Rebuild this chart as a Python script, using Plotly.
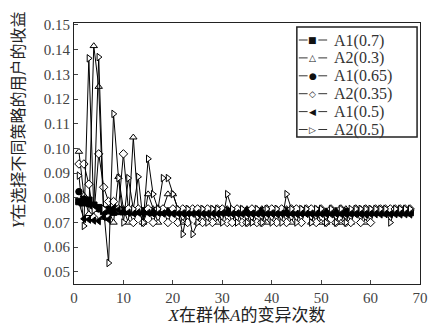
import plotly.graph_objects as go

x_vals = list(range(1, 69))

a1_07 = [0.0785, 0.0780, 0.0790, 0.0770, 0.0760, 0.0745, 0.0748, 0.0742, 0.0745, 0.0744,
         0.0746, 0.0743, 0.0745, 0.0744, 0.0746, 0.0742, 0.0745, 0.0743, 0.0744, 0.0745,
         0.0743, 0.0744, 0.0742, 0.0745, 0.0743, 0.0744, 0.0742, 0.0744, 0.0743, 0.0745,
         0.0742, 0.0744, 0.0743, 0.0742, 0.0744, 0.0743, 0.0742, 0.0744, 0.0742, 0.0743,
         0.0744, 0.0742, 0.0743, 0.0742, 0.0744, 0.0742, 0.0743, 0.0741, 0.0743, 0.0742,
         0.0741, 0.0743, 0.0742, 0.0741, 0.0742, 0.0741, 0.0743, 0.0741, 0.0742, 0.0741,
         0.0742, 0.0741, 0.0740, 0.0742, 0.0741, 0.0740, 0.0741, 0.0740]
a2_03 = [0.0987, 0.0810, 0.0735, 0.1415, 0.1250, 0.0720, 0.0750, 0.0700, 0.0885, 0.0755,
         0.0700, 0.1045, 0.0755, 0.0700, 0.0815, 0.0755, 0.0700, 0.0755, 0.0815, 0.0815,
         0.0755, 0.0700, 0.0755, 0.0755, 0.0700, 0.0755, 0.0755, 0.0755, 0.0700, 0.0755,
         0.0755, 0.0700, 0.0755, 0.0755, 0.0755, 0.0700, 0.0755, 0.0755, 0.0700, 0.0755,
         0.0755, 0.0755, 0.0755, 0.0700, 0.0755, 0.0755, 0.0755, 0.0700, 0.0755, 0.0700,
         0.0700, 0.0755, 0.0700, 0.0700, 0.0755, 0.0700, 0.0755, 0.0755, 0.0700, 0.0755,
         0.0755, 0.0755, 0.0755, 0.0755, 0.0755, 0.0755, 0.0755, 0.0755]
a1_065 = [0.0825, 0.0795, 0.0775, 0.0765, 0.0755, 0.0752, 0.0755, 0.0750, 0.0748, 0.0750,
          0.0749, 0.0748, 0.0750, 0.0748, 0.0749, 0.0747, 0.0749, 0.0748, 0.0747, 0.0749,
          0.0748, 0.0747, 0.0749, 0.0748, 0.0747, 0.0748, 0.0749, 0.0747, 0.0748, 0.0747,
          0.0748, 0.0747, 0.0748, 0.0746, 0.0748, 0.0747, 0.0746, 0.0748, 0.0747, 0.0746,
          0.0747, 0.0746, 0.0748, 0.0746, 0.0747, 0.0746, 0.0747, 0.0745, 0.0747, 0.0746,
          0.0745, 0.0746, 0.0747, 0.0745, 0.0746, 0.0745, 0.0746, 0.0745, 0.0746, 0.0744,
          0.0745, 0.0746, 0.0744, 0.0745, 0.0744, 0.0745, 0.0744, 0.0744]
a2_035 = [0.0937, 0.0937, 0.0855, 0.0720, 0.0978, 0.0843, 0.0785, 0.0785, 0.0755, 0.0978,
          0.0755, 0.0700, 0.0755, 0.0700, 0.0755, 0.0700, 0.0755, 0.0755, 0.0700, 0.0755,
          0.0700, 0.0755, 0.0700, 0.0755, 0.0755, 0.0700, 0.0755, 0.0700, 0.0755, 0.0755,
          0.0700, 0.0700, 0.0755, 0.0700, 0.0700, 0.0755, 0.0700, 0.0700, 0.0755, 0.0755,
          0.0700, 0.0755, 0.0700, 0.0755, 0.0755, 0.0700, 0.0755, 0.0755, 0.0700, 0.0755,
          0.0700, 0.0755, 0.0700, 0.0755, 0.0700, 0.0700, 0.0755, 0.0700, 0.0755, 0.0700,
          0.0755, 0.0755, 0.0755, 0.0755, 0.0755, 0.0755, 0.0755, 0.0755]
a1_05 = [0.0780, 0.0715, 0.0712, 0.0708, 0.0706, 0.0722, 0.0712, 0.0758, 0.0752, 0.0745,
         0.0740, 0.0738, 0.0741, 0.0737, 0.0739, 0.0736, 0.0740, 0.0737, 0.0738, 0.0736,
         0.0739, 0.0737, 0.0738, 0.0736, 0.0738, 0.0737, 0.0736, 0.0738, 0.0736, 0.0737,
         0.0738, 0.0736, 0.0737, 0.0735, 0.0737, 0.0736, 0.0737, 0.0735, 0.0736, 0.0737,
         0.0735, 0.0736, 0.0735, 0.0737, 0.0735, 0.0736, 0.0735, 0.0736, 0.0734, 0.0736,
         0.0735, 0.0734, 0.0736, 0.0735, 0.0734, 0.0735, 0.0734, 0.0735, 0.0733, 0.0735,
         0.0734, 0.0733, 0.0734, 0.0733, 0.0734, 0.0733, 0.0734, 0.0733]
a2_05 = [0.0890, 0.0686, 0.1365, 0.0750, 0.1370, 0.0755, 0.0536, 0.1140, 0.0880, 0.0700,
         0.0880, 0.0755, 0.0885, 0.0700, 0.0958, 0.0815, 0.0755, 0.0880, 0.0880, 0.0815,
         0.0755, 0.0653, 0.0755, 0.0653, 0.0700, 0.0755, 0.0700, 0.0755, 0.0755, 0.0700,
         0.0815, 0.0755, 0.0700, 0.0755, 0.0700, 0.0700, 0.0755, 0.0700, 0.0755, 0.0700,
         0.0755, 0.0700, 0.0815, 0.0755, 0.0700, 0.0755, 0.0755, 0.0700, 0.0755, 0.0755,
         0.0700, 0.0755, 0.0700, 0.0755, 0.0700, 0.0755, 0.0755, 0.0755, 0.0755, 0.0755,
         0.0755, 0.0755, 0.0755, 0.0700, 0.0755, 0.0755, 0.0755, 0.0755]

series_names = ["A1(0.7)", "A2(0.3)", "A1(0.65)", "A2(0.35)", "A1(0.5)", "A2(0.5)"]
series_values = [a1_07, a2_03, a1_065, a2_035, a1_05, a2_05]
series_symbols = ["square", "triangle-up", "circle", "diamond", "triangle-left", "triangle-right"]
series_fills = ["black", "white", "black", "white", "black", "white"]
legend_glyphs = ["■", "△", "●", "◇", "◀", "▷"]

# plot area in pixels (for placing the hand-built legend box)
W, H = 440, 334
ML, MR, MT, MB = 74, 12, 23, 50
PW, PH = W - ML - MR, H - MT - MB


def px_x(p):
    return (p - ML) / PW


def px_y(p):
    return 1 - (p - MT) / PH


fig = go.Figure()
for name, ys, sym, fill in zip(series_names, series_values, series_symbols, series_fills):
    fig.add_trace(go.Scatter(
        x=x_vals, y=ys, name=name, mode="lines+markers",
        line=dict(color="black", width=1),
        marker=dict(symbol=sym, size=6.5, color=fill,
                    line=dict(color="black", width=1)),
    ))

serif = "Liberation Serif, Noto Sans CJK SC, serif"

shapes = [dict(type="rect", xref="paper", yref="paper",
               x0=px_x(302), x1=px_x(425), y0=px_y(137), y1=px_y(27),
               line=dict(color="#222", width=1.5), fillcolor="white", layer="above")]
annotations = [dict(text="<i>Y</i>在选择不同策略的用户的收益", textangle=-90,
                    xref="paper", yref="paper", x=px_x(17), y=px_y(120),
                    xanchor="center", yanchor="middle", showarrow=False,
                    font=dict(family=serif, size=16, color="#222"))]
for i, (name, glyph) in enumerate(zip(series_names, legend_glyphs)):
    cy = 40 + 17.9 * i
    for a, b in ((304, 313), (324, 333)):
        shapes.append(dict(type="line", xref="paper", yref="paper",
                           x0=px_x(a), x1=px_x(b), y0=px_y(cy), y1=px_y(cy),
                           line=dict(color="#333", width=1), layer="above"))
    annotations.append(dict(text=glyph, xref="paper", yref="paper",
                            x=px_x(318.5), y=px_y(cy), xanchor="center", yanchor="middle",
                            showarrow=False,
                            font=dict(family="DejaVu Sans", size=9, color="#111")))
    annotations.append(dict(text=name, xref="paper", yref="paper",
                            x=px_x(339), y=px_y(cy + 0.5), xanchor="left", yanchor="middle",
                            showarrow=False, borderpad=0,
                            font=dict(family=serif, size=16, color="#333")))

fig.update_layout(
    width=W, height=H,
    margin=dict(l=ML, r=MR, t=MT, b=MB),
    paper_bgcolor="white", plot_bgcolor="white",
    font=dict(family=serif, size=15, color="#333"),
    showlegend=False,
    xaxis=dict(range=[0, 70], dtick=10, ticks="inside", ticklen=4,
               showline=True, linecolor="#222", linewidth=1, mirror=True,
               showgrid=False, zeroline=False,
               tickfont=dict(family=serif, size=15, color="#444"),
               title=dict(text="<i>X</i>在群体<i>A</i>的变异次数",
                          font=dict(family=serif, size=17, color="#222"),
                          standoff=4)),
    yaxis=dict(range=[0.0451, 0.1508], tickvals=[0.05, 0.06, 0.07, 0.08, 0.09, 0.10,
                                                  0.11, 0.12, 0.13, 0.14, 0.15],
               tickformat=".2f", ticks="inside", ticklen=4,
               showline=True, linecolor="#222", linewidth=1, mirror=True,
               showgrid=False, zeroline=False,
               tickfont=dict(family=serif, size=15, color="#444")),
    shapes=shapes,
    annotations=annotations,
)

fig.write_html("out.html")
